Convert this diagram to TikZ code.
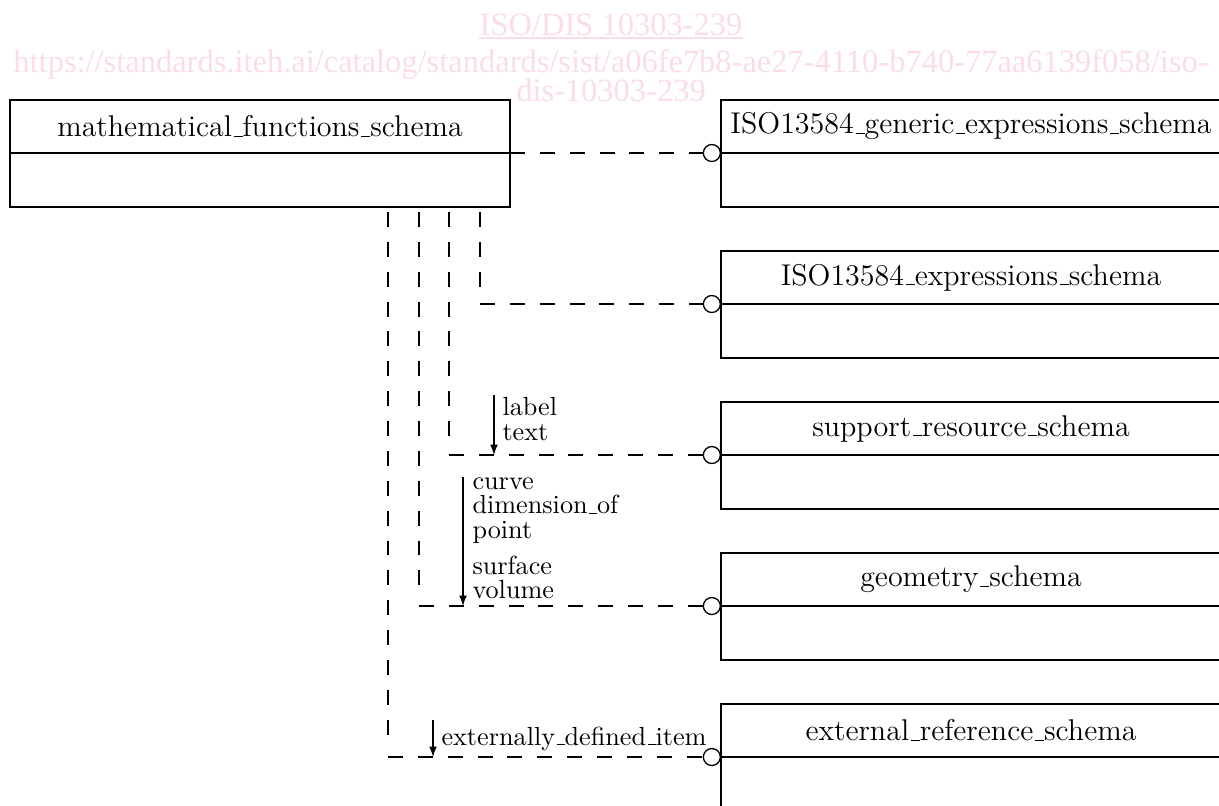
\documentclass[tikz,border=0pt]{standalone}
\usepackage{fontspec}
\usepackage{tikz}
\usetikzlibrary{arrows.meta,positioning}
\newfontfamily\wmfont{Liberation Serif}
\definecolor{Mark}{HTML}{FADDE6}
\newdimen\px \px=0.3817pt
\newcommand\usc{\leavevmode\kern.06em\vbox{\hrule width.3em}}

\begin{document}
\begin{tikzpicture}[
  x=\px,y=-\px,
  node distance=44\px,
  schematitle/.style={draw,line width=0.55pt,outer sep=0pt,minimum width=500\px,minimum height=53\px,inner sep=0pt,font=\fontsize{11.45}{13}\selectfont},
  schemabody/.style={draw,line width=0.55pt,outer sep=0pt,minimum width=500\px,minimum height=54\px,inner sep=0pt},
  divider/.style={line width=1pt},
  joint/.style={circle,draw,line width=0.5pt,fill=white,minimum size=17\px,inner sep=0pt},
  uses/.style={line width=0.5pt,dash pattern=on 5.7pt off 5.7pt},
  refarrow/.style={-{Latex[length=4pt,width=3pt]},line width=0.5pt},
  reflabel/.style={inner sep=0pt,align=left,font=\fontsize{10}{9.35}\selectfont},
  watermark/.style={text=Mark,inner sep=0pt,font=\wmfont\fontsize{12.4}{14}\selectfont}
]
\useasboundingbox (0,0) rectangle (1219,805);

% watermark
\node[watermark,anchor=base] (wm1) at (611,35) {ISO/DIS 10303-239};
\draw[Mark,line width=0.8pt] ([yshift=-1pt]wm1.base west) -- ([yshift=-1pt]wm1.base east);
\node[watermark,anchor=base] (wm2) at (611,72) {https://standards.iteh.ai/catalog/standards/sist/a06fe7b8-ae27-4110-b740-77aa6139f058/iso-};
\node[watermark,anchor=base] (wm3) at (611,101) {dis-10303-239};

% schemas
\node[schematitle] (mfs) at (260,126.5) {mathematical\usc functions\usc schema};
\node[schemabody,below=0pt of mfs] (mfsbody) {};
\node[schematitle] (gexp) at (971,126.5) {ISO13584\usc generic\usc expressions\usc schema};
\node[schemabody,below=0pt of gexp] (gexpbody) {};
\node[schematitle,below=of gexpbody] (exp) {ISO13584\usc expressions\usc schema};
\node[schemabody,below=0pt of exp] (expbody) {};
\node[schematitle,below=of expbody] (sres) {support\usc resource\usc schema};
\node[schemabody,below=0pt of sres] (sresbody) {};
\node[schematitle,below=of sresbody] (geom) {geometry\usc schema};
\node[schemabody,below=0pt of geom] (geombody) {};
\node[schematitle,below=of geombody] (xref) {external\usc reference\usc schema};
\node[schemabody,below=0pt of xref] (xrefbody) {};
\foreach \s in {mfs,gexp,exp,sres,geom,xref} \draw[divider] (\s.south west) -- (\s.south east);

% use from
\coordinate (v2) at (480,212);
\coordinate (v3) at (449,212);
\coordinate (v4) at (419,212);
\coordinate (v5) at (388,212);
\foreach \s/\o in {gexp/o1,exp/o2,sres/o3,geom/o4,xref/o5} \node[joint,left=0pt of \s.south west] (\o) {};
\draw[uses] (mfs.south east) -- (o1);
\foreach \v/\o in {v2/o2,v3/o3,v4/o4,v5/o5} {
  \draw[uses] (\v) -- ([yshift=3pt]\v |- \o);
  \draw[uses] (\v |- \o) -- (\o);
}

% referenced items
\node[reflabel,anchor=north west] (lsres) at (502,397) {label\\text};
\coordinate (a3) at (494,395);
\draw[refarrow] (a3) -- (a3 |- o3);
\node[reflabel,anchor=north west] (lgeom) at (472,477) {curve\\dimension\usc of\\point\\[4.4pt]surface\\volume};
\coordinate (a4) at (463,477);
\draw[refarrow] (a4) -- (a4 |- o4);
\node[reflabel,anchor=base west] (lxref) at (441,745) {externally\usc defined\usc item};
\coordinate (a5) at (433,720);
\draw[refarrow] (a5) -- (a5 |- o5);
\end{tikzpicture}
\end{document}
